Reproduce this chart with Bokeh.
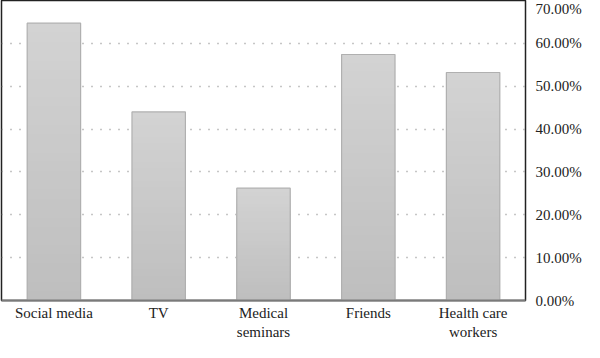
from bokeh.plotting import figure
from bokeh.models import ColumnDataSource, NumeralTickFormatter, FixedTicker, LinearAxis, Range1d, FactorRange
from bokeh.embed import file_html
from bokeh.resources import INLINE

categories = ["Social media", "TV", "Medical\nseminars", "Friends", "Health care\nworkers"]
values = [0.647, 0.440, 0.262, 0.574, 0.532]
y_ticks = [0.0, 0.1, 0.2, 0.3, 0.4, 0.5, 0.6, 0.7]

FONT = "Liberation Serif"
BAR_W = 0.51
N_SEG = 30
TOP_GRAY = 0xd3
BOT_GRAY = 0xbe

p = figure(width=584, height=342, x_range=FactorRange(*categories, range_padding=0),
           y_range=Range1d(0, 0.7), output_backend="svg", toolbar_location=None,
           min_border_left=1, min_border_top=0, min_border_right=0, min_border_bottom=0,
           y_axis_location=None)

# gradient: overlapping rects from the base, tallest first (light top -> darker bottom)
xs, tops, cols = [], [], []
for i in range(N_SEG):
    frac = 1 - i / N_SEG
    t = (N_SEG - i - 0.5) / N_SEG
    g = round(BOT_GRAY + (TOP_GRAY - BOT_GRAY) * t)
    for c, v in zip(categories, values):
        xs.append(c)
        tops.append(v * frac)
        cols.append("#%02x%02x%02x" % (g, g, g))
seg = ColumnDataSource(dict(x=xs, top=tops, color=cols))
p.vbar(x="x", bottom=0, top="top", width=BAR_W, source=seg,
       fill_color="color", line_color=None)

src = ColumnDataSource(dict(x=categories, top=values))
p.vbar(x="x", top="top", width=BAR_W, source=src, fill_color=None,
       line_color="#b0b0b0", line_width=1.2)

yax = LinearAxis(ticker=FixedTicker(ticks=y_ticks),
                 formatter=NumeralTickFormatter(format="0.00%"))
yax.axis_line_color = None
yax.major_tick_line_color = None
yax.major_tick_out = 0
yax.minor_tick_line_color = None
yax.minor_tick_out = 0
yax.major_label_text_font = FONT
yax.major_label_text_font_size = "15px"
yax.major_label_text_color = "#222222"
yax.major_label_standoff = 10
p.add_layout(yax, "right")

xax = p.xaxis[0]
xax.axis_line_color = "#7a7a7a"
xax.axis_line_width = 2
xax.major_tick_line_color = None
xax.major_tick_out = 0
xax.minor_tick_line_color = None
xax.minor_tick_out = 0
xax.major_label_text_font = FONT
xax.major_label_text_font_size = "15px"
xax.major_label_text_color = "#222222"
xax.major_label_standoff = 4

p.xgrid.grid_line_color = None
p.ygrid.ticker = FixedTicker(ticks=y_ticks)
p.ygrid.grid_line_color = "#8c8c8c"
p.ygrid.grid_line_dash = "1 8"
p.ygrid.grid_line_width = 1.5

p.outline_line_color = "#222222"
p.outline_line_width = 1.5
p.background_fill_color = "white"
p.border_fill_color = "white"

open("out.html", "w").write(file_html(p, INLINE))
